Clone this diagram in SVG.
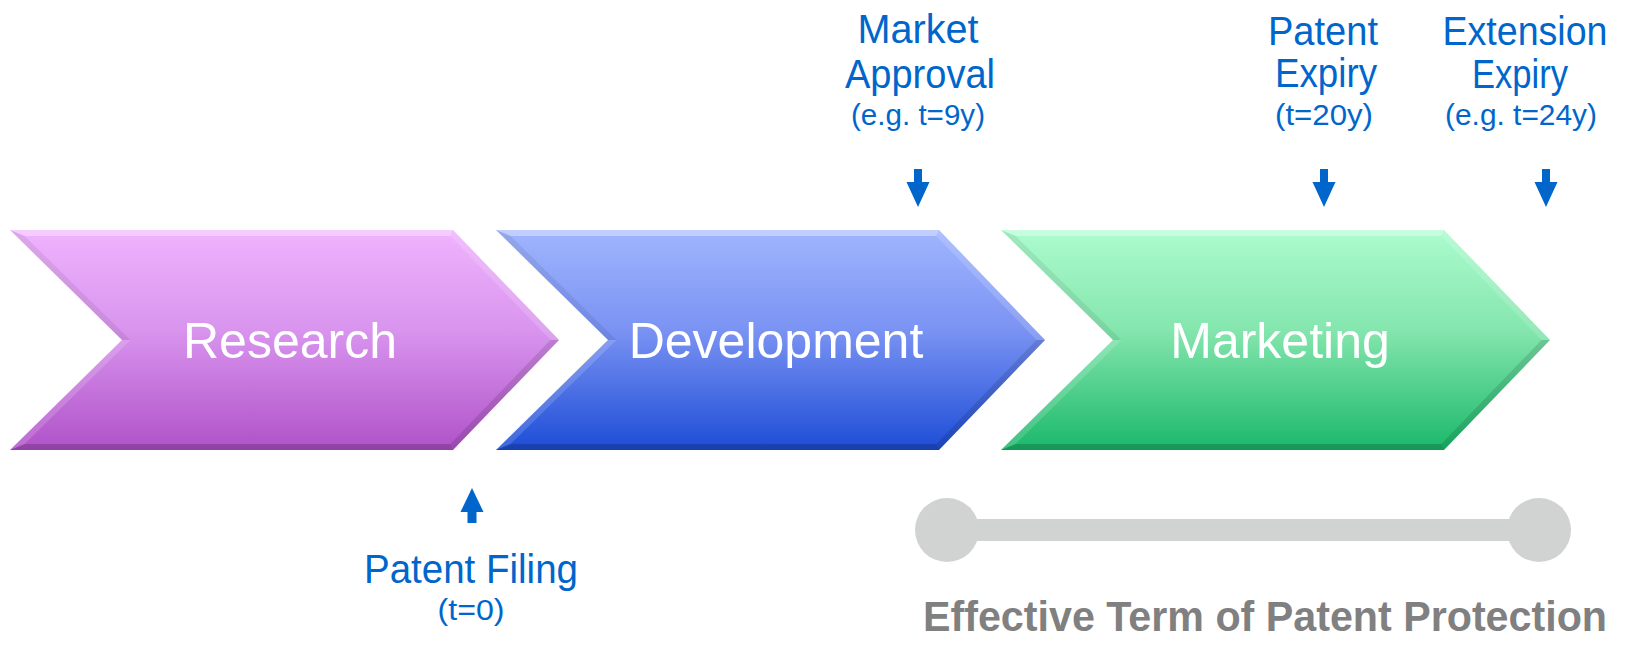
<svg xmlns="http://www.w3.org/2000/svg" xmlns:xlink="http://www.w3.org/1999/xlink" width="1627" height="645" viewBox="0 0 1627 645">
<style>
.stage{font-family:"Liberation Sans",Arial,sans-serif;font-size:50px;fill:#ffffff;text-anchor:middle}
.lbl{font-family:"Liberation Sans",Arial,sans-serif;font-size:40px;fill:#0066cc;text-anchor:middle}
.sub{font-family:"Liberation Sans",Arial,sans-serif;font-size:29px;fill:#0066cc;text-anchor:middle}
.term{font-family:"Liberation Sans",Arial,sans-serif;font-size:42px;font-weight:bold;fill:#808080}
.arr{fill:#0066cc}
.hi1{fill:#ffffff;fill-opacity:0.35}
.hi2{fill:#ffffff;fill-opacity:0.15}
.sh1{fill:#000000;fill-opacity:0.12}
.sh2{fill:#000000;fill-opacity:0.18}
.sh3{fill:#000000;fill-opacity:0.07}
.bar{fill:#d1d3d2}
</style>
<defs>
<linearGradient id="gR" x1="0" y1="0" x2="0" y2="1">
<stop offset="0" stop-color="#efb3fe"/><stop offset="0.45" stop-color="#d995ee"/><stop offset="1" stop-color="#b052c9"/>
</linearGradient>
<linearGradient id="gD" x1="0" y1="0" x2="0" y2="1">
<stop offset="0" stop-color="#a0b5fe"/><stop offset="0.45" stop-color="#7b93f3"/><stop offset="1" stop-color="#1d4dd6"/>
</linearGradient>
<linearGradient id="gM" x1="0" y1="0" x2="0" y2="1">
<stop offset="0" stop-color="#acfbce"/><stop offset="0.45" stop-color="#85e6ae"/><stop offset="1" stop-color="#1bb86b"/>
</linearGradient>
<g id="bevel">
<polygon class="hi1" points="0,0 443,0 440.3,6 14.6,6"/>
<polygon class="hi2" points="443,0 549,110 540.5,110 440.3,6"/>
<polygon class="sh1" points="549,110 443,220 440.3,214 540.5,110"/>
<polygon class="sh2" points="443,220 0,220 14.6,214 440.3,214"/>
<polygon class="hi2" points="0,220 112,110 120.5,110 14.6,214"/>
<polygon class="sh3" points="112,110 0,0 14.6,6 120.5,110"/>
</g>
<path id="down" d="M-4,0 H4 V13 H11.5 L0,38 L-11.5,13 H-4 Z"/>
<path id="up" d="M0,0 L11.5,24 H4.5 V35 H-4.5 V24 H-11.5 Z"/>
</defs>

<g id="research" transform="translate(10,230)">
<polygon points="0,0 443,0 549,110 443,220 0,220 112,110" fill="url(#gR)"/>
<use xlink:href="#bevel"/>
<text class="stage" x="280" y="128">Research</text>
</g>

<g id="development" transform="translate(496,230)">
<polygon points="0,0 443,0 549,110 443,220 0,220 112,110" fill="url(#gD)"/>
<use xlink:href="#bevel"/>
<text class="stage" x="280" y="128">Development</text>
</g>

<g id="marketing" transform="translate(1001,230)">
<polygon points="0,0 443,0 549,110 443,220 0,220 112,110" fill="url(#gM)"/>
<use xlink:href="#bevel"/>
<text class="stage" x="279" y="128">Marketing</text>
</g>

<g id="market-approval">
<text class="lbl" x="918" y="43" textLength="121" lengthAdjust="spacingAndGlyphs">Market</text>
<text class="lbl" x="920" y="88" textLength="150" lengthAdjust="spacingAndGlyphs">Approval</text>
<text class="sub" x="918" y="125" textLength="134" lengthAdjust="spacingAndGlyphs">(e.g. t=9y)</text>
</g>

<g id="patent-expiry">
<text class="lbl" x="1323" y="45" textLength="110" lengthAdjust="spacingAndGlyphs">Patent</text>
<text class="lbl" x="1326" y="87" textLength="102" lengthAdjust="spacingAndGlyphs">Expiry</text>
<text class="sub" x="1324" y="125" textLength="98" lengthAdjust="spacingAndGlyphs">(t=20y)</text>
</g>

<g id="extension-expiry">
<text class="lbl" x="1525" y="45" textLength="165" lengthAdjust="spacingAndGlyphs">Extension</text>
<text class="lbl" x="1520" y="88" textLength="96" lengthAdjust="spacingAndGlyphs">Expiry</text>
<text class="sub" x="1521" y="125" textLength="152" lengthAdjust="spacingAndGlyphs">(e.g. t=24y)</text>
</g>

<g id="patent-filing">
<text class="lbl" x="471" y="583" textLength="214" lengthAdjust="spacingAndGlyphs">Patent Filing</text>
<text class="sub" x="471" y="620" textLength="67" lengthAdjust="spacingAndGlyphs">(t=0)</text>
</g>

<g id="effective-term">
<rect class="bar" x="947" y="519" width="592" height="22"/>
<circle class="bar" cx="947" cy="530" r="32"/>
<circle class="bar" cx="1539" cy="530" r="32"/>
<text class="term" x="923" y="631" textLength="684" lengthAdjust="spacingAndGlyphs">Effective Term of Patent Protection</text>
</g>

<g id="connectors">
<use class="arr" xlink:href="#down" x="918" y="169"/>
<use class="arr" xlink:href="#down" x="1324" y="169"/>
<use class="arr" xlink:href="#down" x="1546" y="169"/>
<use class="arr" xlink:href="#up" x="472" y="488"/>
</g>
</svg>
